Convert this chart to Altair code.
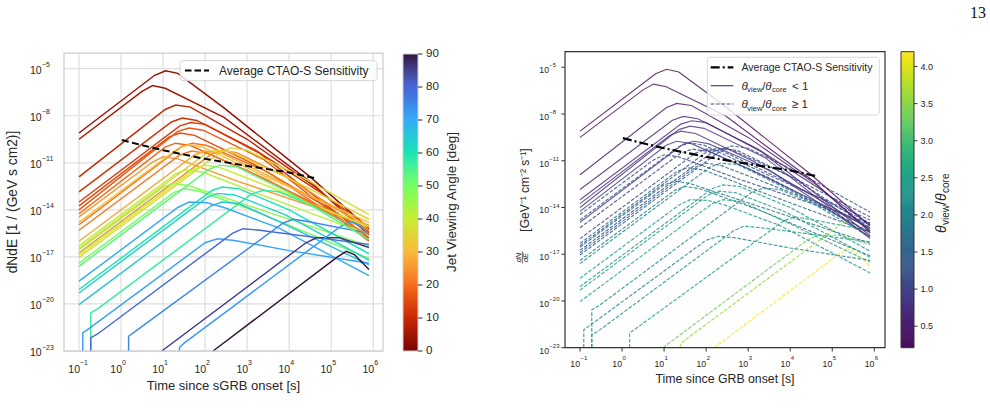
import altair as alt
import numpy as np
import pandas as pd

# ---------------- data (log10 values) ----------------
curve_angle = [3, 5, 9, 11, 13, 15, 17, 19, 21, 26, 31, 24, 36, 42, 46, 50, 40, 34,
               60, 63, 57, 66, 70, 71, 79, 75, 85, 72, 90, 22, 28, 53]
curve_ratio = [0.21, 0.30, 0.42, 0.52, 0.60, 0.68, 0.76, 0.85, 0.95, 1.10, 1.25, 1.05, 1.40, 1.60,
               1.75, 1.90, 1.50, 1.30, 2.30, 2.50, 2.10, 2.60, 2.40, 2.00, 2.30, 2.50, 3.30, 3.60,
               4.20, 1.02, 1.15, 2.05]
curve_logt = [
    [-1, 0.8, 1.06, 1.35, 2.45, 4.5, 5.9],
    [-1, 0.5, 0.75, 1.05, 2.45, 4.5, 5.9],
    [-1, 1.05, 1.3, 1.65, 3.0, 4.6, 5.9],
    [-1, 1.2, 1.46, 1.8, 3.2, 4.7, 5.9],
    [-1, 1.4, 1.66, 2.0, 3.3, 5.9],
    [-1, 1.15, 1.4, 1.75, 3.1, 5.9],
    [-1, 1.35, 1.62, 1.95, 3.4, 5.9],
    [-1, 1.05, 1.3, 1.65, 3.0, 5.9],
    [-1, 1.45, 1.7, 2.05, 3.5, 5.9],
    [-1, 0.75, 1.0, 1.35, 2.8, 5.9],
    [-1, 1.35, 1.6, 1.95, 3.3, 5.9],
    [-1, 2.15, 2.4, 2.75, 4.0, 5.9],
    [-1, 2.35, 2.6, 3.0, 4.3, 5.9],
    [-1, 1.3, 1.54, 1.95, 3.3, 5.9],
    [-1, 1.0, 1.25, 1.6, 3.0, 5.9],
    [-1, 1.25, 1.5, 1.85, 3.2, 5.9],
    [-1, 1.75, 2.0, 2.35, 3.7, 5.9],
    [-1, 2.0, 2.25, 2.6, 4.0, 5.9],
    [-1, 2.15, 2.4, 2.8, 4.0, 5.9],
    [-1, 2.05, 2.3, 2.7, 3.9, 5.9],
    [-0.72, -0.72, -0.55, 3.1, 3.38, 3.75, 4.6, 5.9],
    [-1, 2.15, 2.4, 2.8, 3.8, 5.9],
    [-1, 1.35, 1.62, 2.05, 2.45, 3.75, 5.9],
    [-0.91, -0.91, -0.78, 2.0, 2.3, 2.7, 4.0, 5.9],
    [-0.72, -0.72, -0.55, 2.65, 2.9, 3.3, 5.9],
    [0.18, 0.18, 0.34, 3.85, 4.1, 4.41, 5.9],
    [0.97, 4.4, 4.65, 5.2, 5.9],
    [1.38, 1.40, 1.5, 5.2, 5.45, 5.7, 5.9],
    [2.19, 5.15, 5.36, 5.55, 5.9],
    [-1, 1.4, 1.68, 2.05, 3.5, 5.9],
    [-1, 1.75, 2.0, 2.4, 3.8, 5.9],
    [-1, 2.1, 2.35, 2.75, 4.0, 5.9],
]
curve_logf = [
    [-9.1, -5.42, -5.13, -5.3, -7.5, -11.9, -15.2],
    [-9.5, -6.45, -6.08, -6.25, -8.1, -12.2, -15.6],
    [-11.9, -7.6, -7.32, -7.45, -9.5, -12.5, -15.5],
    [-12.85, -8.4, -8.15, -8.3, -10.2, -12.8, -15.1],
    [-13.5, -8.65, -8.43, -8.55, -10.4, -15.8],
    [-13.75, -9.35, -9.1, -9.25, -11.0, -15.4],
    [-14.0, -9.0, -8.78, -8.92, -10.8, -16.0],
    [-14.25, -10.0, -9.75, -9.9, -11.5, -15.3],
    [-14.95, -9.95, -9.75, -9.9, -11.6, -15.9],
    [-14.45, -10.95, -10.62, -10.75, -12.2, -15.0],
    [-14.8, -10.1, -9.85, -10.0, -11.7, -14.8],
    [-16.75, -10.45, -10.2, -10.35, -12.0, -15.3],
    [-17.05, -10.35, -10.05, -10.2, -11.9, -14.3],
    [-16.3, -11.7, -11.45, -11.6, -13.0, -15.6],
    [-16.55, -12.55, -12.3, -12.45, -13.7, -16.3],
    [-17.4, -12.9, -12.65, -12.8, -14.1, -17.1],
    [-16.9, -11.4, -11.15, -11.3, -12.7, -15.1],
    [-16.45, -10.45, -10.2, -10.3, -12.0, -14.6],
    [-19.08, -12.78, -12.55, -12.65, -14.0, -16.8],
    [-19.3, -13.2, -12.95, -13.05, -14.3, -17.2],
    [-23.0, -20.57, -20.3, -13.0, -12.75, -12.85, -13.8, -15.6],
    [-20.04, -13.74, -13.5, -13.6, -14.8, -17.5],
    [-18.55, -13.85, -13.5, -13.55, -13.85, -15.15, -18.2],
    [-23.0, -21.85, -21.6, -16.1, -15.85, -15.95, -16.6, -17.4],
    [-23.0, -22.17, -21.9, -15.5, -15.2, -15.3, -16.2],
    [-23.0, -22.06, -21.75, -14.85, -14.6, -14.73, -15.5],
    [-23.0, -16.1, -15.78, -15.78, -16.4],
    [-23.0, -22.75, -22.5, -15.1, -14.75, -15.0, -15.6],
    [-23.0, -17.0, -16.65, -16.85, -17.8],
    [-15.3, -10.5, -10.25, -10.4, -12.1, -15.6],
    [-16.0, -10.5, -10.25, -10.4, -12.2, -15.0],
    [-17.6, -11.4, -11.15, -11.25, -12.9, -15.9],
]
sens_logt = [0.02, 0.5, 1.0, 2.0, 3.0, 4.0, 4.64]
sens_logf = [-9.55, -9.88, -10.2, -10.75, -11.2, -11.62, -12.0]

xtick_exp = [-1, 0, 1, 2, 3, 4, 5, 6]
ytick_exp = [-5, -8, -11, -14, -17, -20, -23]
cb_angle_ticks = [0, 10, 20, 30, 40, 50, 60, 70, 80, 90]
cb_ratio_ticks = [0.5, 1.0, 1.5, 2.0, 2.5, 3.0, 3.5, 4.0]
cb_angle_range = [0, 90]
cb_ratio_range = [0.21, 4.2]

# reversed "turbo" colour map stops (angle 0 -> 90)
turbo_r_stops = ["#7A0403", "#CB2A04", "#F66B19", "#FABA39", "#C7EF34",
                 "#72FE5E", "#1AE4B6", "#36AAF9", "#4662D7", "#30123B"]

# ---------------- tables ----------------
rows = []
for i, (a, r, lt, lf) in enumerate(zip(curve_angle, curve_ratio, curve_logt, curve_logf)):
    for j, (x, y) in enumerate(zip(lt, lf)):
        rows.append(dict(cid=i, ord=j, t=10.0 ** x, f=10.0 ** y, angle=a, ratio=r))
curves = pd.DataFrame(rows)
sens = pd.DataFrame({"t": [10.0 ** v for v in sens_logt], "f": [10.0 ** v for v in sens_logf],
                     "ord": list(range(len(sens_logt)))})


def exps(lst):
    return [str(e).replace("-", "\u2212") for e in lst]


xl = pd.DataFrame({"v": [10.0 ** e for e in xtick_exp], "b": "10", "e": exps(xtick_exp)})
yl = pd.DataFrame({"v": [10.0 ** e for e in ytick_exp], "b": "10", "e": exps(ytick_exp)})
one = pd.DataFrame({"k": [0]})

# colorbar gradient strips
n = 300
a_v = np.linspace(cb_angle_range[0], cb_angle_range[1], n + 1)[:-1]
cb1 = pd.DataFrame({"v": a_v, "v2": np.minimum(a_v + 1.6 * (a_v[1] - a_v[0]), cb_angle_range[1])})
r_v = np.linspace(cb_ratio_range[0], cb_ratio_range[1], n + 1)[:-1]
cb2 = pd.DataFrame({"v": r_v, "v2": np.minimum(r_v + 1.6 * (r_v[1] - r_v[0]), cb_ratio_range[1])})
cb1t = pd.DataFrame({"v": cb_angle_ticks, "s": [str(v) for v in cb_angle_ticks]})
cb2t = pd.DataFrame({"v": cb_ratio_ticks, "s": [f"{v:.1f}" for v in cb_ratio_ticks]})

# ---------------- scales ----------------
XDOM = [10 ** -1.345, 10 ** 6.245]
LX = alt.Scale(type="log", domain=XDOM, range=[64.5, 383.5], nice=False)
LY = alt.Scale(type="log", domain=[1e-23, 1e-4], range=[351, 53], nice=False)
RX = alt.Scale(type="log", domain=XDOM, range=[565.5, 884.6], nice=False)
RY = alt.Scale(type="log", domain=[1e-23, 1e-4], range=[347.7, 51.7], nice=False)
CA = alt.Scale(domain=cb_angle_ticks, range=turbo_r_stops, interpolate="rgb")
CR = alt.Scale(scheme="viridis", domain=cb_ratio_range)
CBY1 = alt.Scale(domain=cb_angle_range, range=[351, 54], nice=False, zero=False)
CBY2 = alt.Scale(domain=cb_ratio_range, range=[347.7, 51.7], nice=False, zero=False)

FONT = "Liberation Sans"
TC = "#262626"


def txt(s, x, y, size, angle=0, align="left", baseline="alphabetic", style="normal", color=TC, font=FONT):
    return alt.Chart(one).mark_text(text=s, fontSize=size, angle=angle, align=align, baseline=baseline,
                                    fontStyle=style, color=color, font=font).encode(
        x=alt.value(x), y=alt.value(y))


def hline(x1, x2, y, color, width, dash=None, opacity=1.0):
    kw = dict(color=color, strokeWidth=width, opacity=opacity)
    if dash is not None:
        kw["strokeDash"] = dash
    return alt.Chart(one).mark_rule(**kw).encode(x=alt.value(x1), x2=alt.value(x2), y=alt.value(y))


def box(x1, x2, y1, y2, stroke, width, fill_opacity=0.0, radius=0):
    return alt.Chart(one).mark_rect(fill="white", fillOpacity=fill_opacity, stroke=stroke,
                                    strokeWidth=width, cornerRadius=radius).encode(
        x=alt.value(x1), x2=alt.value(x2), y=alt.value(y1), y2=alt.value(y2))


# ---------------- left panel ----------------
left = alt.layer(
    alt.Chart(xl).mark_rule(color="#dedede", strokeWidth=1.2).encode(
        x=alt.X("v:Q", scale=LX, axis=None), y=alt.value(53), y2=alt.value(351)),
    alt.Chart(yl).mark_rule(color="#dedede", strokeWidth=1.2).encode(
        y=alt.Y("v:Q", scale=LY, axis=None), x=alt.value(64), x2=alt.value(383)),
    alt.Chart(curves).mark_line(strokeWidth=1.45).encode(
        x=alt.X("t:Q", scale=LX, axis=None), y=alt.Y("f:Q", scale=LY, axis=None),
        color=alt.Color("angle:Q", scale=CA, legend=None), detail="cid:N", order="ord:Q"),
    alt.Chart(sens).mark_line(color="black", strokeWidth=2, strokeDash=[7, 3.5]).encode(
        x=alt.X("t:Q", scale=LX, axis=None), y=alt.Y("f:Q", scale=LY, axis=None), order="ord:Q"),
    box(64, 383, 53, 351, "#cccccc", 1.25),
    alt.Chart(xl).mark_text(align="right", baseline="middle", fontSize=10.5, dx=1, font=FONT, color=TC).encode(
        x=alt.X("v:Q", scale=LX, axis=None), y=alt.value(370), text="b:N"),
    alt.Chart(xl).mark_text(align="left", baseline="middle", fontSize=7, dx=1, font=FONT, color=TC).encode(
        x=alt.X("v:Q", scale=LX, axis=None), y=alt.value(363), text="e:N"),
    alt.Chart(yl).mark_text(align="right", baseline="middle", fontSize=10.5, dy=2, font=FONT, color=TC).encode(
        y=alt.Y("v:Q", scale=LY, axis=None), x=alt.value(41.7), text="b:N"),
    alt.Chart(yl).mark_text(align="left", baseline="middle", fontSize=7, dy=-3.5, font=FONT, color=TC).encode(
        y=alt.Y("v:Q", scale=LY, axis=None), x=alt.value(42), text="e:N"),
    box(180, 377, 60.7, 80.7, "#d4d4d4", 1, 0.8, 3),
    hline(185, 209, 70.5, "black", 2, [6.5, 3]),
    txt("Average CTAO-S Sensitivity", 219, 71, 12, baseline="middle"),
    txt("Time since sGRB onset [s]", 223.5, 386, 13, align="center", baseline="middle"),
    txt("dNdE [1 / (GeV s cm2)]", 13, 202, 13.8, angle=270, align="center", baseline="middle"),
)

# ---------------- left colorbar ----------------
lcb = alt.layer(
    alt.Chart(cb1).mark_rect().encode(
        y=alt.Y("v:Q", scale=CBY1, axis=None), y2="v2:Q",
        x=alt.value(403), x2=alt.value(418), color=alt.Color("v:Q", scale=CA, legend=None)),
    box(403, 418, 54, 351, "#cccccc", 1),
    alt.Chart(cb1t).mark_rule(color=TC, strokeWidth=1).encode(
        y=alt.Y("v:Q", scale=CBY1, axis=None), x=alt.value(418), x2=alt.value(422.5)),
    alt.Chart(cb1t).mark_text(align="left", baseline="middle", fontSize=11.5, font=FONT, color=TC).encode(
        y=alt.Y("v:Q", scale=CBY1, axis=None), x=alt.value(426), text="s:N"),
    txt("Jet Viewing Angle [deg]", 452, 202, 13.5, angle=270, align="center", baseline="middle"),
)

# ---------------- right panel ----------------
base_r = alt.Chart(curves).encode(
    x=alt.X("t:Q", scale=RX, axis=None), y=alt.Y("f:Q", scale=RY, axis=None),
    color=alt.Color("ratio:Q", scale=CR, legend=None), detail="cid:N", order="ord:Q")
SPINE = "#333333"
right = alt.layer(
    base_r.mark_line(strokeWidth=1.15, opacity=0.85, strokeDash=[3.7, 1.6]).transform_filter("datum.ratio >= 1"),
    base_r.mark_line(strokeWidth=1.15, opacity=0.8).transform_filter("datum.ratio < 1"),
    alt.Chart(sens).mark_line(color="black", strokeWidth=2.2, strokeDash=[9, 3, 2, 3]).encode(
        x=alt.X("t:Q", scale=RX, axis=None), y=alt.Y("f:Q", scale=RY, axis=None), order="ord:Q"),
    box(565, 885, 51.7, 347.7, SPINE, 1.2),
    alt.Chart(xl).mark_rule(color=SPINE, strokeWidth=1).encode(
        x=alt.X("v:Q", scale=RX, axis=None), y=alt.value(347.7), y2=alt.value(351.5)),
    alt.Chart(yl).mark_rule(color=SPINE, strokeWidth=1).encode(
        y=alt.Y("v:Q", scale=RY, axis=None), x=alt.value(561.3), x2=alt.value(565)),
    alt.Chart(xl).mark_text(align="right", baseline="middle", fontSize=8.7, font=FONT, color=TC).encode(
        x=alt.X("v:Q", scale=RX, axis=None), y=alt.value(364), text="b:N"),
    alt.Chart(xl).mark_text(align="left", baseline="middle", fontSize=6, dx=0.5, font=FONT, color=TC).encode(
        x=alt.X("v:Q", scale=RX, axis=None), y=alt.value(357.8), text="e:N"),
    alt.Chart(yl).mark_text(align="right", baseline="middle", fontSize=8.7, dy=3, font=FONT, color=TC).encode(
        y=alt.Y("v:Q", scale=RY, axis=None), x=alt.value(549), text="b:N"),
    alt.Chart(yl).mark_text(align="left", baseline="middle", fontSize=6, dy=-1.8, font=FONT, color=TC).encode(
        y=alt.Y("v:Q", scale=RY, axis=None), x=alt.value(549.3), text="e:N"),
    # legend
    box(707.3, 879.3, 57.3, 115, "#d8d8d8", 1, 0.8, 3),
    hline(710.7, 733.3, 67.3, "black", 2.2, [9, 3, 2, 3]),
    txt("Average CTAO-S Sensitivity", 741.5, 67.8, 10.5, baseline="middle"),
    hline(710.7, 733.3, 85.7, "#55407f", 1.2),
    txt("\u03b8", 741.5, 89.6, 11.5, style="italic"),
    txt("view", 747.3, 92.2, 7.5),
    txt("/", 762.3, 89.6, 11.5),
    txt("\u03b8", 765.3, 89.6, 11.5, style="italic"),
    txt("core", 772, 92.2, 7.5),
    txt("< 1", 792, 89.6, 11.5),
    hline(710.7, 733.3, 104, "#55407f", 1.2, [3.7, 1.6]),
    txt("\u03b8", 741.5, 108, 11.5, style="italic"),
    txt("view", 747.3, 110.6, 7.5),
    txt("/", 762.3, 108, 11.5),
    txt("\u03b8", 765.3, 108, 11.5, style="italic"),
    txt("core", 772, 110.6, 7.5),
    txt("\u2265 1", 792, 108, 11.5),
    # axis titles
    txt("Time since GRB onset [s]", 725, 379, 12.3, align="center", baseline="middle"),
    txt("[GeV\u207b\u00b9 cm\u207b\u00b2 s\u207b\u00b9]", 525, 190, 12, angle=270, align="center",
        baseline="middle"),
    txt("dN", 519, 257.5, 7.5, angle=270, align="center", baseline="middle", style="italic"),
    alt.Chart(one).mark_rule(color=TC, strokeWidth=0.7).encode(
        x=alt.value(522.3), y=alt.value(251.5), y2=alt.value(263.5)),
    txt("dE", 525.8, 257.5, 7.5, angle=270, align="center", baseline="middle", style="italic"),
)

# ---------------- right colorbar ----------------
rcb = alt.layer(
    alt.Chart(cb2).mark_rect().encode(
        y=alt.Y("v:Q", scale=CBY2, axis=None), y2="v2:Q",
        x=alt.value(901), x2=alt.value(914), color=alt.Color("v:Q", scale=CR, legend=None)),
    box(901, 914, 51.7, 347.7, SPINE, 1),
    alt.Chart(cb2t).mark_rule(color=SPINE, strokeWidth=1).encode(
        y=alt.Y("v:Q", scale=CBY2, axis=None), x=alt.value(914), x2=alt.value(917.5)),
    alt.Chart(cb2t).mark_text(align="left", baseline="middle", fontSize=9, font=FONT, color=TC).encode(
        y=alt.Y("v:Q", scale=CBY2, axis=None), x=alt.value(920.5), text="s:N"),
    txt("\u03b8", 946, 233, 14, angle=270, style="italic"),
    txt("view", 949, 225, 10, angle=270),
    txt("/", 946, 205, 14, angle=270),
    txt("\u03b8", 946, 201, 14, angle=270, style="italic"),
    txt("core", 949, 193, 10, angle=270),
)

page = txt("13", 986, 18, 16, align="right", font="Liberation Serif", color="#111111")

chart = alt.layer(left, lcb, right, rcb, page).resolve_scale(
    x="independent", y="independent", color="independent"
).properties(
    width=990, height=412, padding=0, autosize=alt.AutoSizeParams(type="none"),
    background="white"
).configure_view(strokeWidth=0)

chart.save("out.html", embed_options={"renderer": "svg", "actions": False})
